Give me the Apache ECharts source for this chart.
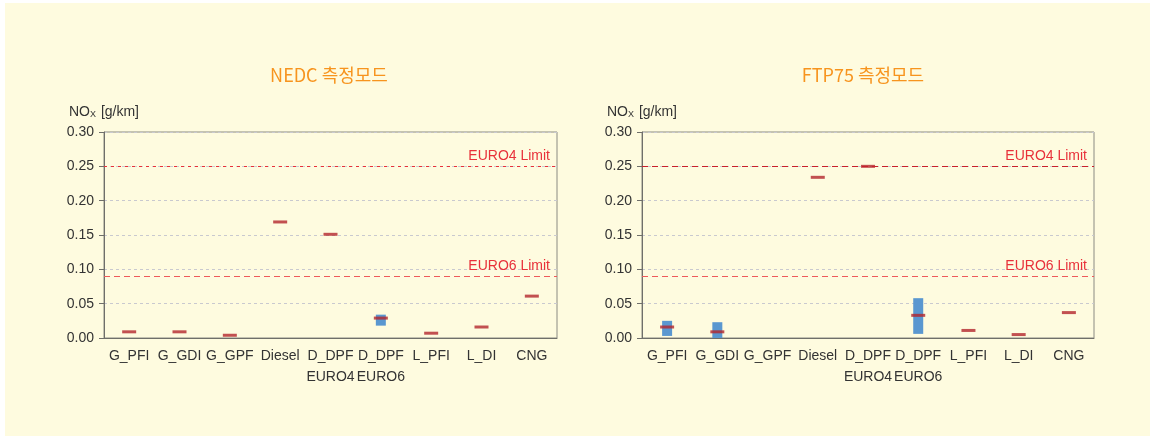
<!DOCTYPE html>
<html>
<head>
<meta charset="utf-8">
<style>
  html, body { margin: 0; padding: 0; background: #ffffff; }
  #panel { position: absolute; left: 5px; top: 3px; width: 1145px; height: 433px; background: #FEFBDF; }
  #chart { position: absolute; left: 0; top: 0; width: 1155px; height: 438px; }
</style>
<script src="https://cdn.jsdelivr.net/npm/echarts@6/dist/echarts.min.js"></script>
</head>
<body>
<div id="panel"></div>
<div id="chart"></div>
<script>
// Vehicle categories (x axis)
const categories = ['G_PFI', 'G_GDI', 'G_GPF', 'Diesel', 'D_DPF\nEURO4', 'D_DPF\nEURO6', 'L_PFI', 'L_DI', 'CNG'];
const yTicks = [0, 0.05, 0.10, 0.15, 0.20, 0.25, 0.30];

// NEDC mode: mean NOx and min/max spread [g/km]
const nedcMean = [0.009, 0.009, 0.004, 0.169, 0.151, 0.029, 0.007, 0.016, 0.061];
const nedcMin  = [null, null, null, null, null, 0.018, null, null, null];
const nedcMax  = [null, null, null, null, null, 0.034, null, null, null];

// FTP75 mode: mean NOx and min/max spread [g/km]
const ftpMean = [0.016, 0.009, null, 0.234, 0.250, 0.033, 0.011, 0.005, 0.037];
const ftpMin  = [0.003, 0.000, null, null, null, 0.006, null, null, null];
const ftpMax  = [0.025, 0.023, null, null, null, 0.058, null, null, null];

// Regulation limits [g/km]
const nedcLimits = { euro4: 0.25, euro6: 0.09 };
const ftpLimits  = { euro4: 0.25, euro6: 0.092 };

const FONT = '"Liberation Sans", Arial, sans-serif';
const TEXT = '#333333';
const RED_MARK = '#B3262C';
const BLUE = '#5A97D0';
const LIMIT_TXT = '#E8313A';

const chart = echarts.init(document.getElementById('chart'), null, { renderer: 'canvas' });

function rangeData(mins, maxs) {
  const out = [];
  mins.forEach((lo, i) => {
    if (lo !== null && maxs[i] !== null) out.push([i, lo, maxs[i]]);
  });
  return out;
}

function renderRange(params, api) {
  const i = api.value(0);
  const lo = api.coord([i, api.value(1)]);
  const hi = api.coord([i, api.value(2)]);
  return {
    type: 'rect',
    shape: { x: lo[0] - 5, y: hi[1], width: 10, height: lo[1] - hi[1] },
    style: { fill: BLUE }
  };
}

function limitLines(limits, euro4Color, euro4Dash) {
  const lbl = (text) => ({
    show: true, position: 'insideEndTop', formatter: text,
    color: LIMIT_TXT, fontSize: 14, fontFamily: FONT, distance: [7, 3]
  });
  return {
    silent: true,
    symbol: 'none',
    animation: false,
    data: [
      { yAxis: limits.euro4, lineStyle: { color: euro4Color, type: euro4Dash, width: 1 }, label: lbl('EURO4 Limit') },
      { yAxis: limits.euro6, lineStyle: { color: '#EE5A5A', type: [6, 4], width: 1 }, label: lbl('EURO6 Limit') }
    ]
  };
}

function xAxis(gridIndex) {
  return {
    type: 'category', gridIndex, data: categories, boundaryGap: true,
    axisLine: { lineStyle: { color: '#6f6f6a', width: 1 } },
    axisTick: { alignWithLabel: true, length: 4, lineStyle: { color: '#6f6f6a' } },
    axisLabel: { color: TEXT, fontSize: 14, fontFamily: FONT, margin: 8, lineHeight: 21, interval: 0 },
    splitLine: { show: false }
  };
}

function yAxis(gridIndex) {
  return {
    type: 'value', gridIndex, min: 0, max: 0.30, interval: 0.05,
    name: 'NO{s|X} [g/km]', nameLocation: 'end', nameGap: 13,
    nameTextStyle: {
      color: TEXT, fontSize: 14, fontFamily: FONT, align: 'center',
      rich: { s: { fontSize: 9, fontFamily: FONT, color: TEXT, verticalAlign: 'bottom', padding: [5, 1, 0, 0] } }
    },
    axisLine: { show: true, lineStyle: { color: '#6f6f6a', width: 1 } },
    axisTick: { show: true, length: 5, lineStyle: { color: '#6f6f6a' } },
    axisLabel: {
      color: TEXT, fontSize: 14, fontFamily: FONT, margin: 10,
      formatter: (v) => v.toFixed(2)
    },
    splitLine: { show: true, lineStyle: { color: '#C9C9CF', type: [3, 3], width: 1 } }
  };
}

function panelSeries(idx, mean, mins, maxs, limits, euro4Color, euro4Dash) {
  return [
    {
      type: 'custom', xAxisIndex: idx, yAxisIndex: idx, z: 2,
      renderItem: renderRange, data: rangeData(mins, maxs), silent: true
    },
    {
      type: 'scatter', xAxisIndex: idx, yAxisIndex: idx, z: 3,
      symbol: 'rect', symbolSize: [14, 3],
      itemStyle: { color: RED_MARK },
      data: mean.map(v => (v === null ? '-' : v)),
      markLine: limitLines(limits, euro4Color, euro4Dash)
    }
  ];
}

chart.setOption({
  animation: false,
  backgroundColor: 'transparent',
  title: [
    { text: 'NEDC 측정모드', left: 324, top: 61, textAlign: 'center',
      textStyle: { color: '#F7941E', fontSize: 18, fontWeight: 'normal', fontFamily: '"Noto Sans CJK KR", sans-serif' } },
    { text: 'FTP75 측정모드', left: 858, top: 61, textAlign: 'center',
      textStyle: { color: '#F7941E', fontSize: 18, fontWeight: 'normal', fontFamily: '"Noto Sans CJK KR", sans-serif' } }
  ],
  grid: [
    { left: 104, top: 132, width: 453, height: 206, show: true, borderColor: '#8a8a82', borderWidth: 1, backgroundColor: 'transparent' },
    { left: 642, top: 132, width: 452, height: 206, show: true, borderColor: '#8a8a82', borderWidth: 1, backgroundColor: 'transparent' }
  ],
  xAxis: [xAxis(0), xAxis(1)],
  yAxis: [yAxis(0), yAxis(1)],
  series: [
    ...panelSeries(0, nedcMean, nedcMin, nedcMax, nedcLimits, '#E8313A', [3, 4]),
    ...panelSeries(1, ftpMean, ftpMin, ftpMax, ftpLimits, '#C8202C', [6, 4])
  ]
});
</script>
</body>
</html>
